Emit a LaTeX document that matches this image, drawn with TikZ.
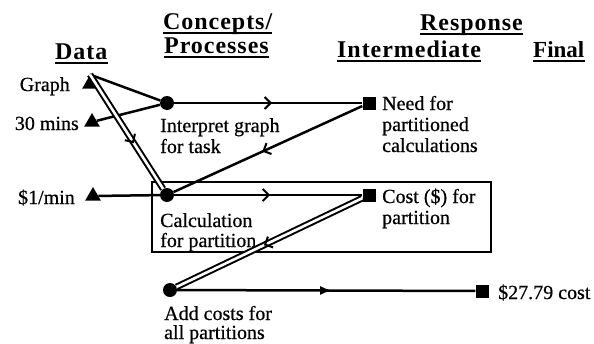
\documentclass[tikz,border=0pt]{standalone}
\usepackage{fontspec}
\newfontfamily\bdfont{Liberation Serif}[FakeBold=0.6]
\newfontfamily\hdfont{Liberation Serif}[LetterSpace=4]
\newfontfamily\hdfonttight{Liberation Serif}
\usetikzlibrary{shapes.geometric,decorations.markings,arrows.meta}
\begin{document}
\begin{tikzpicture}[x=1pt,y=-1pt,
  lbl/.style={font=\bdfont\fontsize{20}{22}\selectfont, inner sep=0pt, anchor=base west},
  rlbl/.style={lbl, anchor=base east},
  hdr/.style={font=\hdfont\bfseries\fontsize{24}{26}\selectfont, inner sep=0pt, anchor=base west},
  hdrt/.style={hdr, font=\hdfonttight\bfseries\fontsize{23}{25}\selectfont},
  uline/.style={line width=2pt},
  tri/.style={regular polygon, regular polygon sides=3, fill, inner sep=0pt, minimum size=18pt},
  dot/.style={circle, fill, inner sep=0pt, minimum size=14pt},
  sq/.style={rectangle, fill, inner sep=0pt, minimum size=13pt},
  ln/.style={line width=2.5pt},
  dbl/.style={double, double distance=2.6pt, line width=2pt},
  barb/.style={postaction={decorate, decoration={markings, mark=at position #1 with {\arrow{Straight Barb[length=6pt,width=12pt,line width=2pt]}}}}},
  fillarr/.style={postaction={decorate, decoration={markings, mark=at position #1 with {\arrow{Latex[length=12pt,width=9pt]}}}}},
  frame/.style={draw, line width=1.8pt, inner sep=0pt, minimum width=339pt, minimum height=70pt}
]
\useasboundingbox (0,0) rectangle (594,343);

% frame
\node[frame] (part) at (321.5,217) {};

% headers
\node[hdr] (hdata) at (55,59) {Data};
\node[hdr] (hcon) at (163,29) {Concepts/};
\node[hdr] (hproc) at (164,53) {Processes};
\node[hdr] (hresp) at (420,30) {Response};
\node[hdr] (hint) at (337,57) {Intermediate};
\node[hdrt] (hfin) at (533,57) {Final};
\foreach \n in {hdata,hcon,hproc,hresp,hint,hfin}
  \draw[uline] ([yshift=-3.5pt]\n.base west) -- ([yshift=-3.5pt]\n.base east);

% markers
\node[tri] (graph) at (90,84) {};
\node[tri] (mins) at (92,122) {};
\node[tri] (dollar) at (93,196) {};
\node[dot] (interp) at (167,103) {};
\node[dot] (calc) at (167,195) {};
\node[dot] (add) at (170,290) {};
\node[sq] (need) at (369,103) {};
\node[sq] (cost) at (369,195) {};
\node[sq] (total) at (482,291) {};

% labels
\node[rlbl] (tgraph) at (70,91) {Graph};
\node[rlbl] (tmins) at (79,130) {30 mins};
\node[rlbl] (tdollar) at (75,204) {\$1/min};
\node[lbl] (ti1) at (160,132) {Interpret graph};
\node[lbl] (ti2) at (160,153) {for task};
\node[lbl] (tn1) at (382,110) {Need for};
\node[lbl] (tn2) at (382,131) {partitioned};
\node[lbl] (tn3) at (382,152) {calculations};
\node[lbl] (tc1) at (160,227) {Calculation};
\node[lbl] (tc2) at (160,247) {for partition};
\node[lbl] (tk1) at (382,203) {Cost (\$) for};
\node[lbl] (tk2) at (382,224) {partition};
\node[lbl] (ta1) at (164,320) {Add costs for};
\node[lbl] (ta2) at (164,339) {all partitions};
\node[lbl] (tt) at (498,299) {\$27.79 cost};

% connectors
\draw[ln] (graph.corner 1) -- (interp);
\draw[ln] (interp) -- (mins);
\draw[dbl] (graph.corner 1) -- (calc);
\path[barb=0.6] (graph.corner 1) -- (calc);
\draw[ln, barb=0.52] (interp) -- (need);
\draw[ln, barb=0.53] (need) -- (calc);
\draw[ln] (dollar) -- (calc);
\draw[ln, barb=0.51] (calc) -- (cost);
\draw[dbl] (cost) -- (add);
\path[barb=0.53] (cost) -- (add);
\draw[ln, fillarr=0.52] (add) -- (total);
\end{tikzpicture}
\end{document}
